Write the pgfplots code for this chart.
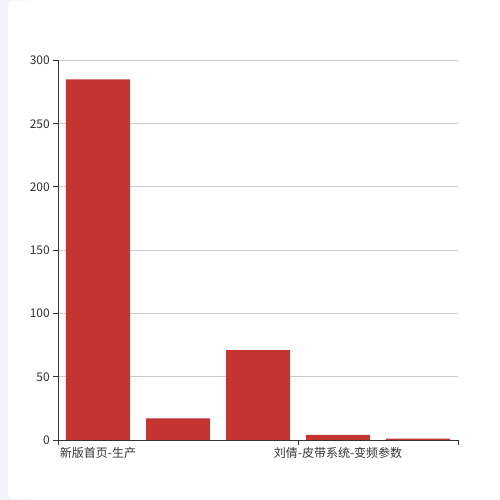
\documentclass[border=0pt]{standalone}
\usepackage{pgfplots}
\pgfplotsset{compat=1.18}
\usepackage{fontspec}
\setmainfont{Noto Sans CJK SC}

\definecolor{barred}{HTML}{C23531}
\definecolor{gridgray}{HTML}{CCCCCC}
\definecolor{axisdark}{HTML}{333333}
\definecolor{pagegray}{HTML}{F2F3F8}

\begin{document}
\begin{tikzpicture}
\useasboundingbox (0bp,0bp) rectangle (500bp,500bp);
\fill[pagegray] (0bp,0bp) rectangle (30bp,500bp);
\fill[white, rounded corners=5bp] (8bp,1bp) rectangle (530bp,499.5bp);
\begin{axis}[
    at={(58bp,60bp)}, anchor=south west,
    scale only axis,
    width=400bp, height=379.5bp,
    xmin=-0.5, xmax=4.5,
    ymin=0, ymax=300,
    axis lines*=left,
    axis line style={axisdark, line width=1bp},
    tick align=outside,
    major tick length=5bp,
    tick style={axisdark, line width=1bp},
    xtick={-0.5,2.5,4.5},
    xticklabels={},
    extra x ticks={0,3},
    extra x tick labels={新版首页-生产,刘倩-皮带系统-变频参数},
    extra x tick style={major tick length=0pt, grid=none,
        xticklabel style={yshift=-5bp}},
    ytick={0,50,100,150,200,250,300},
    ymajorgrids,
    grid style={gridgray, line width=1bp},
    /pgf/number format/assume math mode=true,
    tick label style={font=\fontsize{12bp}{14bp}\selectfont, text=axisdark},
    yticklabel style={inner sep=0pt, xshift=-3bp},
    xticklabel style={inner sep=0pt, yshift=-2bp},
]
\addplot[ybar, fill=barred, draw=none, bar width=64bp]
    coordinates {(0,285) (1,17) (2,71) (3,4) (4,1)};
\end{axis}
\end{tikzpicture}
\end{document}
